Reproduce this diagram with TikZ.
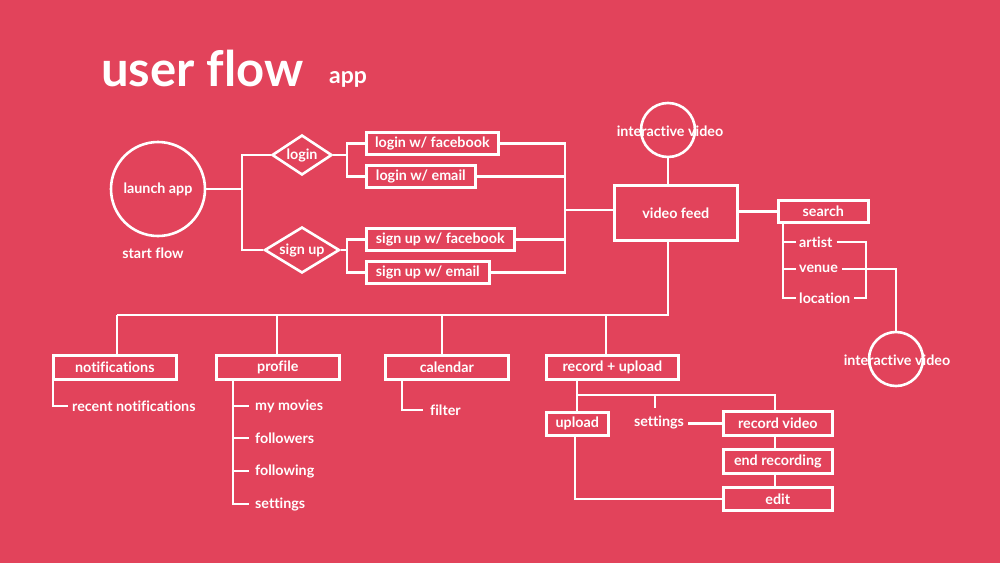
\documentclass[tikz,border=0pt]{standalone}
\usepackage{fontspec}
\setmainfont{Lato}[Ligatures=NoCommon]
\usetikzlibrary{shapes.geometric}
\definecolor{bg}{RGB}{226,67,91}
\begin{document}
\begin{tikzpicture}[x=1pt,y=-1pt,
  every node/.style={text=white,font=\bfseries\fontsize{14.3}{16}\selectfont},
  ln/.style={draw=white,line width=2.6pt},
  bx/.style={draw=white,line width=2.6pt,inner sep=0pt,anchor=north west},
  dia/.style={diamond,draw=white,line width=2.6pt,inner sep=0pt,aspect=1.5},
  circ/.style={circle,draw=white,line width=2.6pt,inner sep=0pt},
  lbl/.style={inner sep=1pt}]
\fill[bg] (0,0) rectangle (1000,563);
\useasboundingbox (0,0) rectangle (1000,563);
% title
\node[anchor=base west,inner sep=0pt,font=\bfseries\fontsize{49}{54}\selectfont] (title) at (101,86) {user flow};
\node[anchor=base west,inner sep=0pt,font=\bfseries\fontsize{23}{26}\selectfont] (app) at (329,83) {app};
% launch
\node[circ,minimum size=94pt] (launch) at (158,189) {launch app};
\node (start) at (153,253) {start flow};
\node[dia,minimum width=60pt,minimum height=40pt] (login) at (302,155) {login};
\node[dia,minimum width=75pt,minimum height=46pt] (signup) at (302,250) {sign up};
\coordinate (j1) at (242,189);
\draw[ln] (launch.east) -- (j1);
\draw[ln] (login.west) -| (j1) |- (signup.west);
% login/signup boxes
\node[bx,minimum width=132pt,minimum height=22pt] (lfb) at (365,131) {login w/ facebook};
\node[bx,minimum width=109pt,minimum height=22pt] (lem) at (365,164) {login w/ email};
\node[bx,minimum width=148pt,minimum height=22pt] (sfb) at (365,227) {sign up w/ facebook};
\node[bx,minimum width=123pt,minimum height=22pt] (sem) at (365,260) {sign up w/ email};
\coordinate (j2) at (347,155);
\coordinate (j3) at (347,250);
\draw[ln] (login.east) -- (j2);
\draw[ln] (lfb.west) -| (j2) |- (lem.west);
\draw[ln] (signup.east) -- (j3);
\draw[ln] (sfb.west) -| (j3) |- (sem.west);
% video feed
\node[bx,minimum width=123pt,minimum height=55pt] (feed) at (613,184) {video feed};
\coordinate (j4) at (565,210);
\draw[ln] (lfb.east) -| (j4);
\draw[ln] (lem.east) -| (j4);
\draw[ln] (sfb.east) -| (j4);
\draw[ln] (sem.east) -| (j4);
\draw[ln] (j4) -- (feed.west |- j4);
\node[circ,minimum size=54pt] (iv1) at (668,130) {};
\node (iv1t) at (670,131) {interactive video};
\draw[ln] (iv1.south) -- (iv1.south |- feed.north);
% search
\node[bx,minimum width=90pt,minimum height=22pt] (search) at (777,199) {search};
\draw[ln] (feed.east |- search.west) -- (search.west);
\node[lbl,anchor=west] (artist) at (798,242) {artist};
\node[lbl,anchor=west] (venue) at (798,269) {venue};
\node[lbl,anchor=west] (location) at (798,298) {location};
\coordinate (s0) at (783,221);
\draw[ln] (s0) |- ([xshift=-2pt]location.west);
\draw[ln] (783,242) -- ([xshift=-2pt]artist.west);
\draw[ln] (783,269) -- ([xshift=-2pt]venue.west);
\coordinate (b1) at (866,242);
\draw[ln] ([xshift=3pt]artist.east) -- (b1) |- ([xshift=3pt]location.east);
\node[circ,minimum size=54pt] (iv2) at (896,359) {};
\node (iv2t) at (897,360) {interactive video};
\draw[ln] ([xshift=3pt]venue.east) -| (iv2.north);
% bottom branch
\coordinate (h) at (668,315);
\draw[ln] (feed.south -| h) -- (h) -- (117,315);
\node[bx,minimum width=123pt,minimum height=24pt] (notif) at (52,354) {notifications};
\node[bx,minimum width=123pt,minimum height=24pt] (profile) at (215,354) {profile};
\node[bx,minimum width=123pt,minimum height=24pt] (cal) at (384,354) {calendar};
\node[bx,minimum width=132pt,minimum height=24pt] (rec) at (545,354) {record + upload};
\draw[ln] (117,315) -- (117,354);
\draw[ln] (277,315) -- (277,354);
\draw[ln] (442,315) -- (442,354);
\draw[ln] (606,315) -- (606,354);
% notifications
\node[lbl,anchor=west] (recent) at (71,406) {recent notifications};
\draw[ln] (53,378) |- ([xshift=-3pt]recent.west);
% profile
\node[lbl,anchor=west] (mym) at (254,406) {my movies};
\node[lbl,anchor=west] (fers) at (254,438) {followers};
\node[lbl,anchor=west] (fing) at (254,471) {following};
\node[lbl,anchor=west] (pset) at (254,504) {settings};
\draw[ln] (233,378) |- ([xshift=-5pt]pset.west);
\draw[ln] (233,406) -- ([xshift=-5pt]mym.west);
\draw[ln] (233,438) -- ([xshift=-5pt]fers.west);
\draw[ln] (233,471) -- ([xshift=-5pt]fing.west);
% calendar
\node[lbl,anchor=west] (filter) at (429,410) {filter};
\draw[ln] (402,378) |- ([xshift=-6pt]filter.west);
% record + upload
\node[bx,minimum width=62pt,minimum height=23pt] (upl) at (545,411) {upload};
\node[lbl] (rset) at (659,422) {settings};
\node[bx,minimum width=109pt,minimum height=24pt] (rv) at (722,410) {record video};
\node[bx,minimum width=109pt,minimum height=24pt] (er) at (722,448) {end recording};
\node[bx,minimum width=109pt,minimum height=23pt] (ed) at (722,486) {edit};
\coordinate (r1) at (577,395);
\draw[ln] (577,378) -- (577,411);
\draw[ln] (r1) -- (775,395) -- (775,410);
\draw[ln] (655,395) -- (655,408);
\draw[ln] ([xshift=3pt]rset.east |- rv.west) -- (rv.west);
\draw[ln] (775,434) -- (775,448);
\draw[ln] (775,472) -- (775,486);
\draw[ln] (575,434) |- (ed.west);
\end{tikzpicture}
\end{document}
